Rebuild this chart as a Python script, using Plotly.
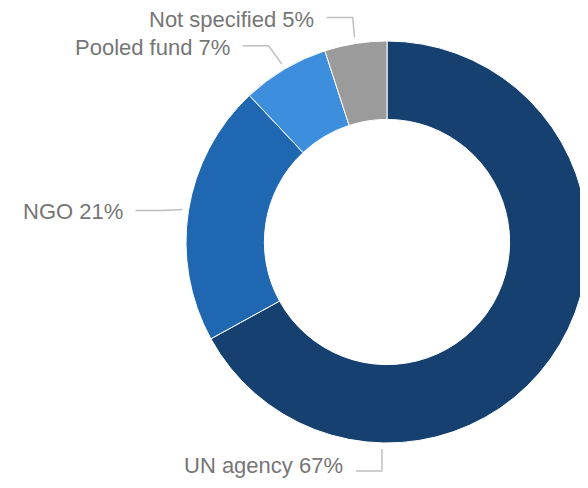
import math
import plotly.graph_objects as go

# ---- data ----
labels = ["UN agency", "NGO", "Pooled fund", "Not specified"]
values = [67, 21, 7, 5]
colors = ["#15406F", "#1F67B1", "#3E8EDE", "#9B9B9B"]

# ---- layout / style constants ----
OFF = 8                      # default page body margin
W, H = 588 - OFF, 488 - OFF  # figure size so it fits the window
# pie placement expressed in screen pixels
PIE_LEFT, PIE_TOP, PIE_BOTTOM = 186, 41, 443
dom_x = [(PIE_LEFT - OFF) / W, 1.0]
dom_y = [1 - (PIE_BOTTOM - OFF) / H, 1 - (PIE_TOP - OFF) / H]
HOLE = 0.61
LINE_COLOR = "#BFBFBF"
TEXT_COLOR = "#767676"
FONT = "Liberation Sans, Arial, sans-serif"

anchor_override = {"UN agency": 181.4}
elbow_offset = {"UN agency": (0, 22), "NGO": (-21, 1),
                "Pooled fund": (-13, -18), "Not specified": (-2, -20)}
text_dy = {"UN agency": -5, "NGO": 1, "Pooled fund": 2, "Not specified": 2}
SEG_LEN = 26
GAP = 11

fig = go.Figure(go.Pie(
    labels=labels, values=values, hole=HOLE, sort=False,
    direction="clockwise", rotation=0,
    marker=dict(colors=colors, line=dict(color="white", width=1)),
    textinfo="none", hoverinfo="label+percent", showlegend=False,
    domain=dict(x=dom_x, y=dom_y),
))

# pie geometry in screen pixels
cx = OFF + (dom_x[0] + dom_x[1]) / 2 * W
cy = OFF + (1 - (dom_y[0] + dom_y[1]) / 2) * H
R = min((dom_x[1] - dom_x[0]) * W, (dom_y[1] - dom_y[0]) * H) / 2


def px(x):
    return (x - OFF) / W


def py(y):
    return 1 - (y - OFF) / H


total = sum(values)
cum = 0
shapes, annotations = [], []
for lab, val in zip(labels, values):
    mid = (cum + val / 2) / total * 360
    cum += val
    ang = anchor_override.get(lab, mid)
    rr = R + 6
    ax = cx + rr * math.sin(math.radians(ang))
    ay = cy - rr * math.cos(math.radians(ang))
    ex = ax + elbow_offset[lab][0]
    ey = ay + elbow_offset[lab][1]
    sx = ex - SEG_LEN
    path = f"M {px(sx)} {py(ey)} L {px(ex)} {py(ey)} L {px(ax)} {py(ay)}"
    shapes.append(dict(type="path", path=path, xref="paper", yref="paper",
                       line=dict(color=LINE_COLOR, width=1.5)))
    pct = round(val / total * 100)
    annotations.append(dict(
        text=f"{lab} {pct}%", x=px(sx - GAP), y=py(ey + text_dy[lab]),
        xref="paper", yref="paper", xanchor="right", yanchor="middle",
        showarrow=False, font=dict(family=FONT, size=22, color=TEXT_COLOR)))

fig.update_layout(
    width=W, height=H, margin=dict(l=0, r=0, t=0, b=0),
    paper_bgcolor="white", plot_bgcolor="white",
    shapes=shapes, annotations=annotations,
)

fig.write_html("out.html")
